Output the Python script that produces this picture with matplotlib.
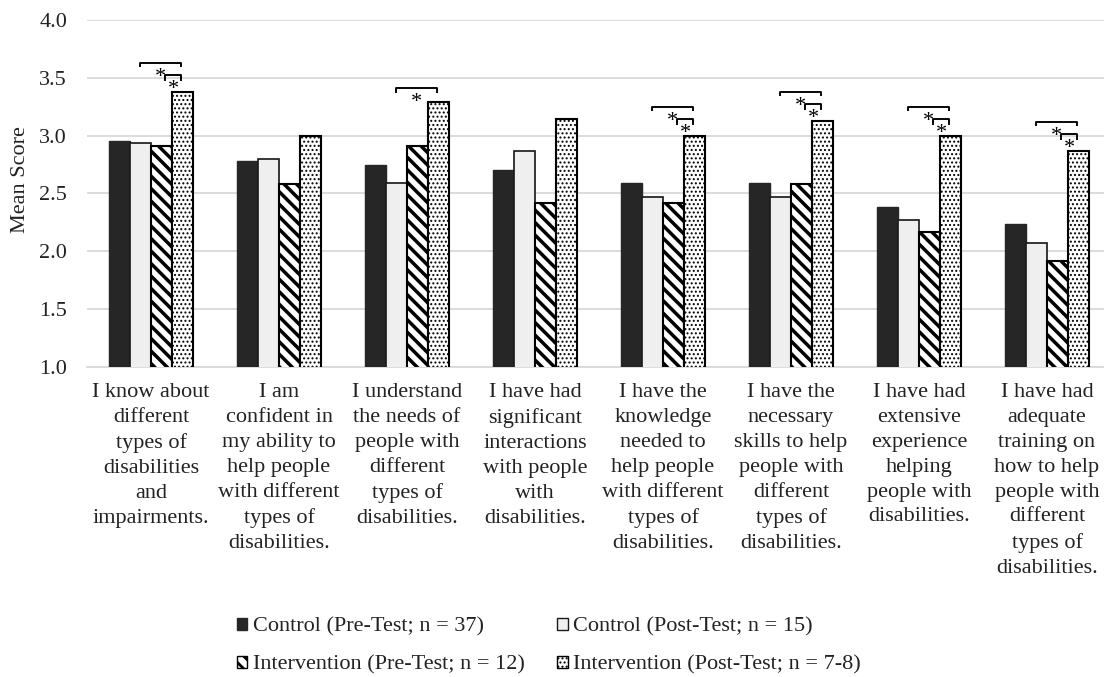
import matplotlib
matplotlib.use("Agg")
import matplotlib.pyplot as plt
import matplotlib.transforms as mtrans
import numpy as np
from matplotlib.patches import Patch

statements = [
    "I know about\ndifferent\ntypes of\ndisabilities\nand\nimpairments.",
    "I am\nconfident in\nmy ability to\nhelp people\nwith different\ntypes of\ndisabilities.",
    "I understand\nthe needs of\npeople with\ndifferent\ntypes of\ndisabilities.",
    "I have had\nsignificant\ninteractions\nwith people\nwith\ndisabilities.",
    "I have the\nknowledge\nneeded to\nhelp people\nwith different\ntypes of\ndisabilities.",
    "I have the\nnecessary\nskills to help\npeople with\ndifferent\ntypes of\ndisabilities.",
    "I have had\nextensive\nexperience\nhelping\npeople with\ndisabilities.",
    "I have had\nadequate\ntraining on\nhow to help\npeople with\ndifferent\ntypes of\ndisabilities.",
]

control_pre = [2.95, 2.78, 2.75, 2.70, 2.59, 2.59, 2.38, 2.24]
control_post = [2.94, 2.80, 2.59, 2.87, 2.47, 2.47, 2.27, 2.07]
intervention_pre = [2.91, 2.58, 2.91, 2.42, 2.42, 2.58, 2.17, 1.92]
intervention_post = [3.38, 3.00, 3.29, 3.14, 3.00, 3.13, 3.00, 2.87]

series_labels = [
    "Control (Pre-Test; n = 37)",
    "Control (Post-Test; n = 15)",
    "Intervention (Pre-Test; n = 12)",
    "Intervention (Post-Test; n = 7-8)",
]

# significant differences of the intervention post-test score
sig_vs_control_post = [True, False, True, False, True, True, True, True]
sig_vs_intervention_pre = [True, False, False, False, True, True, True, True]

y_ticks = [1.0, 1.5, 2.0, 2.5, 3.0, 3.5, 4.0]

# the figure is laid out in pixels; DPI sets the size of the hatch tile
W, H = 1104, 677
DPI = 75
K = 100 / DPI          # points at this dpi per "point at 100 dpi"
PT = 72 / DPI          # points per pixel

plt.rcParams["font.family"] = ["Liberation Serif", "DejaVu Serif"]
plt.rcParams["hatch.linewidth"] = 3.5 * PT

FS = 16 * K
TXT = "#222222"
fig = plt.figure(figsize=(W / DPI, H / DPI), dpi=DPI)
ax = fig.add_axes([87 / W, 1 - 367 / H, 1024 / W, 347 / H])
renderer = fig.canvas.get_renderer()

x = np.arange(len(statements))
bw = 0.164
styles = [
    dict(facecolor="#262626", edgecolor="#262626", linewidth=1.4 * PT),
    dict(facecolor="#efefef", edgecolor="#1a1a1a", linewidth=1.7 * PT),
    dict(facecolor="white", edgecolor="#000000", linewidth=2.1 * PT, hatch="\\\\"),
    dict(facecolor="white", edgecolor="#000000", linewidth=2.1 * PT, hatch="..."),
]
hatch_lw = [None, None, 3.5 * PT, 1.3 * PT]
series = [control_pre, control_post, intervention_pre, intervention_post]
handles = []
for i, (vals, st) in enumerate(zip(series, styles)):
    off = (i - 1.5) * bw
    bars = ax.bar(x + off, vals, bw, zorder=3, **st)
    h = Patch(label=series_labels[i], **{k: v for k, v in st.items() if k != "linewidth"},
              linewidth=1.4 * PT)
    if hatch_lw[i] is not None:
        for p in list(bars) + [h]:
            if hasattr(p, "set_hatch_linewidth"):
                p.set_hatch_linewidth(hatch_lw[i])
    handles.append(h)

ax.set_ylim(1.0, 4.0)
ax.set_xlim(-0.5, 7.5)
ax.set_yticks(y_ticks)
ax.set_yticklabels([f"{t:.1f}" for t in y_ticks])
ax.yaxis.grid(True, color="#d9d9d9", linewidth=1.8 * PT, zorder=0)
ax.set_axisbelow(True)
for s in ["top", "right", "left"]:
    ax.spines[s].set_visible(False)
ax.spines["bottom"].set_color("#d9d9d9")
ax.spines["bottom"].set_linewidth(1.8 * PT)
ax.tick_params(axis="y", length=0, pad=20 * PT, labelsize=FS, colors=TXT)
ax.set_xticks(x)
ax.set_xticklabels([])
ax.tick_params(axis="x", length=0)

# category labels: first baseline 35 px under the axis, 27 px between lines
probe1 = fig.text(0, 0, "lp", fontsize=FS, linespacing=1.0)
probe2 = fig.text(0, 0, "lp\nlp", fontsize=FS, linespacing=1.0)
pitch1 = probe2.get_window_extent(renderer).height - probe1.get_window_extent(renderer).height
probe1.remove()
probe2.remove()
ls = 27.0 / pitch1
lab_tr = mtrans.blended_transform_factory(ax.transData, fig.transFigure)
for xi, lab in zip(x, statements):
    ax.text(xi, 1 - (402 - pitch1) / H, lab, transform=lab_tr, ha="center", va="top",
            multialignment="center", linespacing=ls, fontsize=FS, color=TXT)

fig.text(21 / W, 1 - 180 / H, "Mean Score", rotation=90, ha="center", va="center",
         fontsize=FS, color=TXT)

# significance brackets
px = 347 / 3.0  # pixels per score unit


def bracket(x0, x1, ytop, leg):
    ax.plot([x0, x0, x1, x1], [ytop - leg, ytop, ytop, ytop - leg], color="black",
            linewidth=1.9 * PT, zorder=4, clip_on=False, solid_capstyle="butt")
    ax.text((x0 + x1) / 2, ytop - 19 / px, "*", ha="center", va="baseline",
            fontsize=FS, zorder=5)


for i in range(len(statements)):
    top = intervention_post[i]
    xd = x[i] + 1.45 * bw
    if sig_vs_intervention_pre[i]:
        bracket(x[i] + 0.67 * bw, xd, top + 17 / px, 6 / px)
        long_h = 29
    else:
        long_h = 14
    if sig_vs_control_post[i]:
        bracket(x[i] - 0.52 * bw, xd, top + long_h / px, 4.5 / px)

# legend: two rows, two aligned columns (filled column by column)
order = [0, 2, 1, 3]
fs_px = FS * DPI / 72


def make_legend(labelspacing, anchor):
    lg = fig.legend(handles=[handles[i] for i in order], loc="upper left", ncol=2,
                    bbox_to_anchor=anchor, bbox_transform=fig.transFigure,
                    frameon=False, fontsize=FS, handlelength=0.47, handleheight=0.47,
                    handletextpad=0.25, columnspacing=1.45, labelspacing=labelspacing,
                    borderpad=0, borderaxespad=0, labelcolor=TXT)
    for art, i in zip(lg.legend_handles, order):
        if hatch_lw[i] is not None and hasattr(art, "set_hatch_linewidth"):
            art.set_hatch_linewidth(hatch_lw[i] * (0.8 if i == 2 else 1.0))
    return lg


lsp = 0.8
anchor = (232 / W, 1 - 610 / H)
for _ in range(3):
    leg = make_legend(lsp, anchor)
    fig.canvas.draw()
    t = leg.get_texts()
    b0 = t[0].get_window_extent(renderer)
    b1 = t[1].get_window_extent(renderer)
    pitch = (b0.y0 + b0.y1) / 2 - (b1.y0 + b1.y1) / 2
    dx = 253 - b0.x0
    dy = (H - 627) - (b0.y0 + b0.y1) / 2
    leg.remove()
    lsp += (38 - pitch) / fs_px
    anchor = (anchor[0] + dx / W, anchor[1] + dy / H)
leg = make_legend(lsp, anchor)

fig.savefig("out.png", dpi=DPI)
